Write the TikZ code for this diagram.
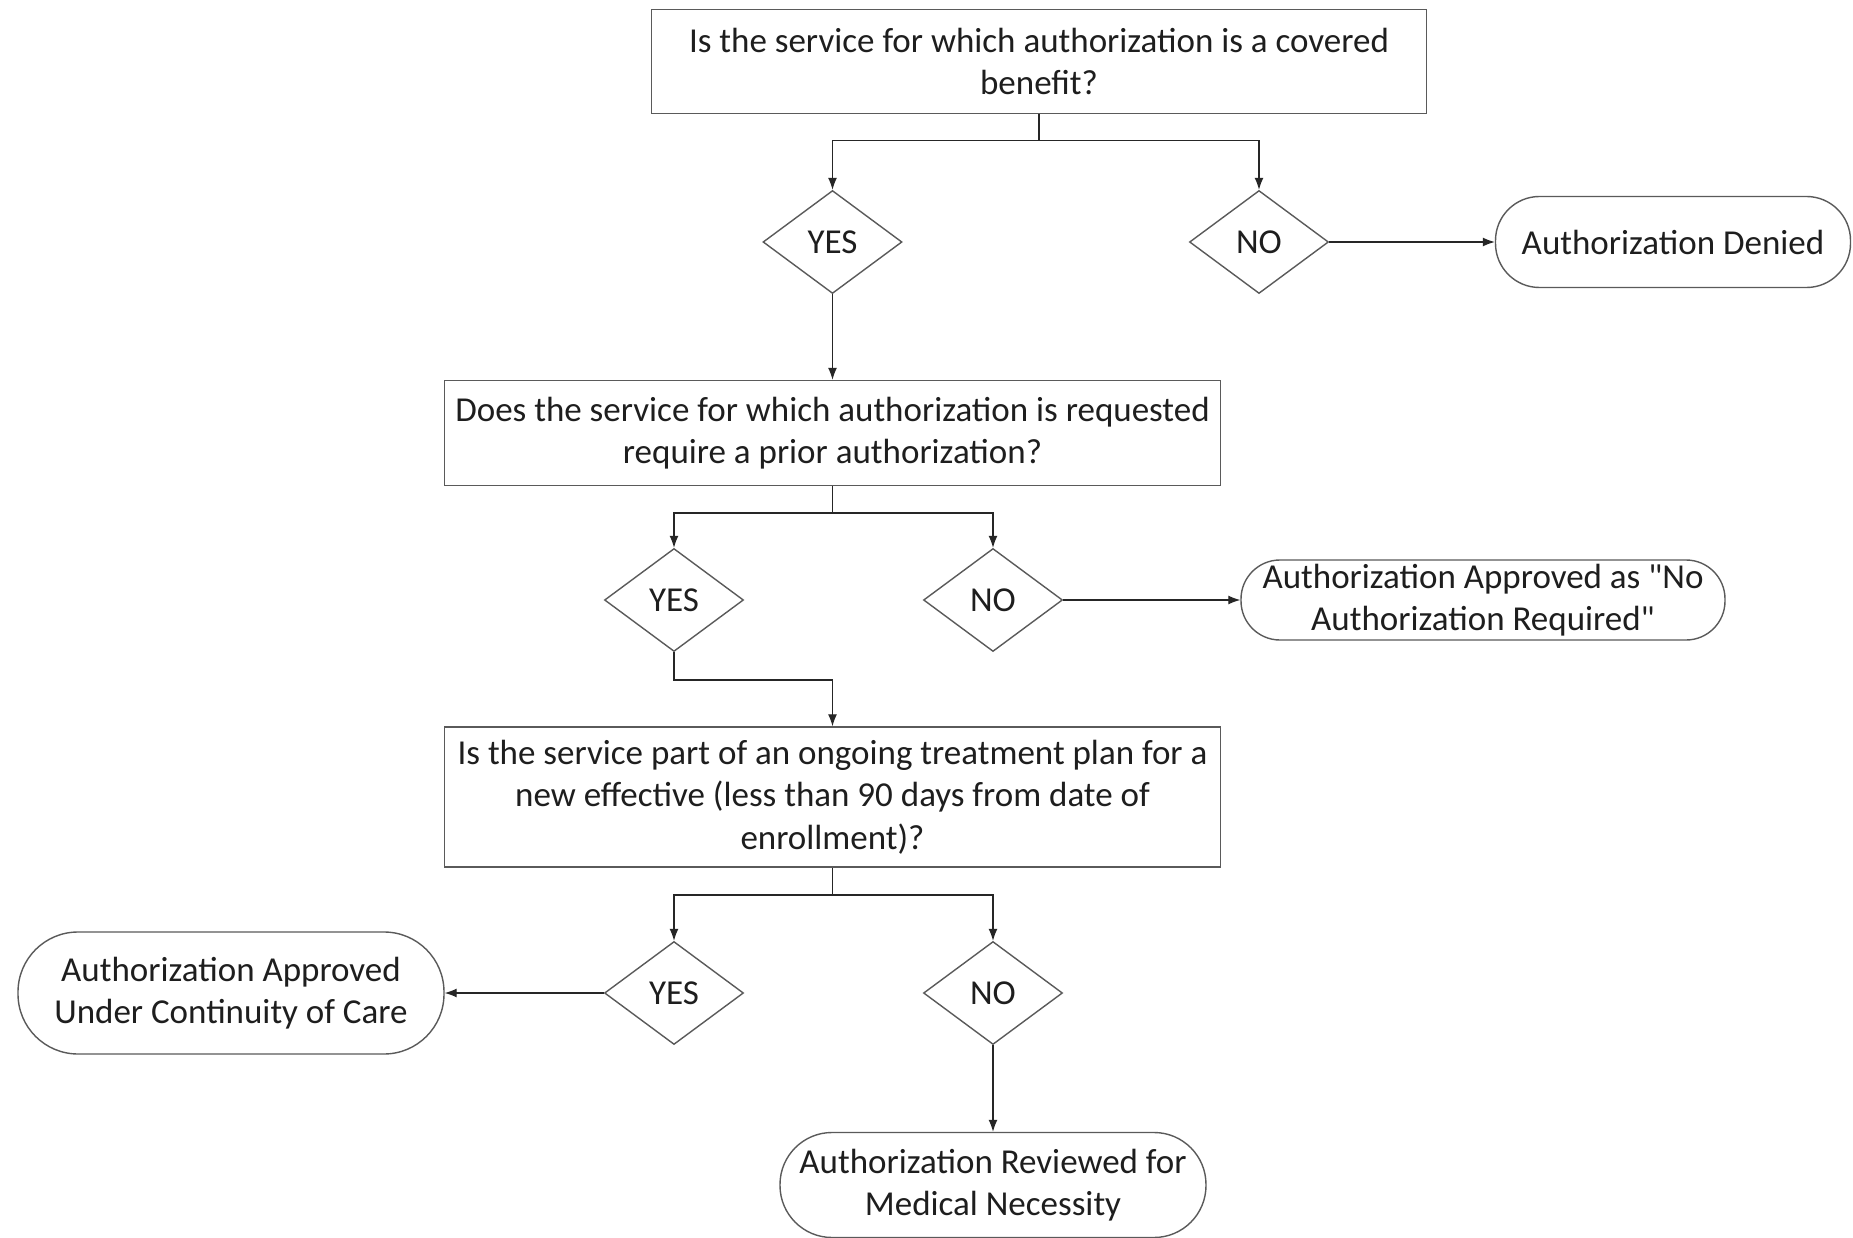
\documentclass[tikz,border=0pt]{standalone}
\usepackage{fontspec}
\setmainfont{Carlito}[Ligatures=TeXOff]
\usetikzlibrary{shapes.geometric,arrows.meta}
\definecolor{edge}{HTML}{5A5A5A}
\definecolor{txt}{HTML}{1E1E1E}
\begin{document}
\begin{tikzpicture}[x=1pt,y=-1pt,
  font=\fontsize{35}{42.5}\selectfont,
  every node/.style={text=txt, align=center},
  qbox/.style={draw=edge, line width=1.4pt, rectangle, inner sep=0pt},
  dec/.style={draw=edge, line width=1.4pt, diamond, inner sep=0pt, minimum width=139pt, minimum height=103pt, aspect=1.35},
  term/.style={draw=edge, line width=1.4pt, rectangle, inner sep=0pt, rounded corners=40pt},
  conn/.style={draw=black!85, line width=1.2pt, -{Latex[length=12pt,width=9pt]}},
  plain/.style={draw=black!85, line width=1.2pt}
]
\useasboundingbox (0,0) rectangle (1853,1238);
\fill[white] (0,0) rectangle (1853,1238);

% row 1
\node[qbox, minimum width=775pt, minimum height=104pt] (q1) at (1039,61.5)
  {Is the service for which authorization is a covered\\ benefit?};
\node[dec] (y1) at (832.5,242) {YES};
\node[dec] (n1) at (1259,242) {NO};
\node[term, minimum width=355pt, minimum height=91pt, rounded corners=44pt] (den) at (1673,242) {Authorization Denied};

% row 2
\node[qbox, minimum width=776pt, minimum height=105pt] (q2) at (832.5,433)
  {Does the service for which authorization is requested\\ require a prior authorization?};
\node[dec] (y2) at (674,600) {YES};
\node[dec] (n2) at (993,600) {NO};
\node[term, minimum width=484pt, minimum height=80pt, rounded corners=39pt] (nar) at (1483,600)
  {Authorization Approved as "No\\ Authorization Required"};

% row 3
\node[qbox, minimum width=776pt, minimum height=140pt] (q3) at (832.5,797)
  {Is the service part of an ongoing treatment plan for a\\ new effective (less than 90 days from date of\\ enrollment)?};
\node[dec] (y3) at (674,993) {YES};
\node[dec] (n3) at (993,993) {NO};
\node[term, minimum width=426pt, minimum height=122pt, rounded corners=60pt] (coc) at (231,993)
  {Authorization Approved\\ Under Continuity of Care};
\node[term, minimum width=426pt, minimum height=105pt, rounded corners=52pt] (rev) at (993,1185)
  {Authorization Reviewed for\\ Medical Necessity};

% connectors
\coordinate (j1) at (1039,140.5);
\draw[plain] (q1.south) -- (j1);
\draw[conn] (j1) -| (y1.north);
\draw[conn] (j1) -| (n1.north);
\draw[conn] (n1.east) -- (den.west);
\draw[conn] (y1.south) -- (q2.north);

\coordinate (j2) at (832.5,513);
\draw[plain] (q2.south) -- (j2);
\draw[conn] (j2) -| (y2.north);
\draw[conn] (j2) -| (n2.north);
\draw[conn] (n2.east) -- (nar.west);
\coordinate (k2) at (832.5,680);
\draw[plain] (y2.south) |- (k2);
\draw[conn] (k2) -- (q3.north);

\coordinate (j3) at (832.5,895);
\draw[plain] (q3.south) -- (j3);
\draw[conn] (j3) -| (y3.north);
\draw[conn] (j3) -| (n3.north);
\draw[conn] (y3.west) -- (coc.east);
\draw[conn] (n3.south) -- (rev.north);
\end{tikzpicture}
\end{document}
